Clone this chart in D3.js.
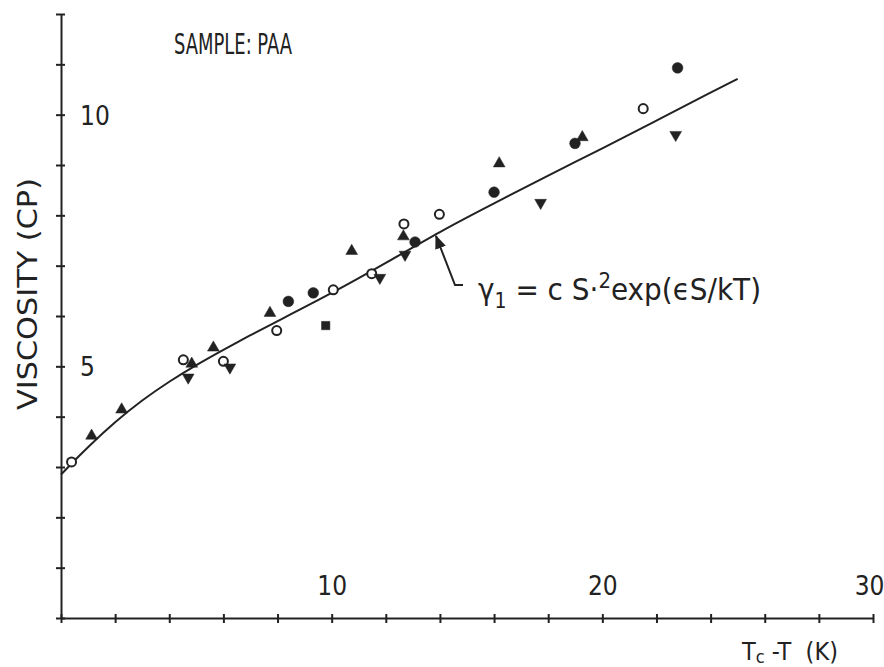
<!DOCTYPE html>
<html>
<head>
<meta charset="utf-8">
<script src="https://cdn.jsdelivr.net/npm/d3@7"></script>
<style>
  body { margin: 0; background: #fff; }
  svg { display: block; }
  text { font-family: "DejaVu Sans Condensed", "DejaVu Sans", sans-serif; fill: #222; white-space: pre; }
</style>
</head>
<body>
<svg id="chart" width="884" height="667"></svg>
<script>
// axis ticks / labels
var xTickValues = [0, 2, 4, 6, 8, 10, 12, 14, 16, 18, 20, 22, 24, 26, 28, 30];
var xTickLabels = { 10: "10", 20: "20", 30: "30" };
var yTickValues = [0, 1, 2, 3, 4, 5, 6, 7, 8, 9, 10, 11, 12];
var yTickLabels = { 5: "5", 10: "10" };

// fitted curve (Tc-T, viscosity)
var curveX = [0, 0.5, 1, 2, 3, 4, 5, 6, 7, 8, 10, 12, 14, 16, 18, 20, 22, 24, 25];
var curveY = [2.85, 3.13, 3.4, 3.9, 4.33, 4.7, 5.03, 5.33, 5.62, 5.9, 6.45, 7.05, 7.68, 8.24, 8.79, 9.33, 9.88, 10.44, 10.71];

// measured points, one array per marker
var openCircle = [[0.39, 3.1], [4.52, 5.13], [6.0, 5.1], [7.97, 5.71], [10.06, 6.52], [11.48, 6.84], [12.67, 7.83], [13.98, 8.02], [21.51, 10.12]];
var filledCircle = [[8.4, 6.29], [9.32, 6.46], [13.08, 7.47], [16.0, 8.46], [18.99, 9.43], [22.78, 10.93]];
var upTriangle = [[1.13, 3.62], [2.24, 4.14], [4.83, 5.05], [5.63, 5.37], [7.72, 6.06], [10.74, 7.29], [12.65, 7.58], [16.19, 9.03], [19.26, 9.55]];
var downTriangle = [[4.7, 4.78], [6.24, 4.98], [11.78, 6.76], [12.71, 7.22], [17.72, 8.25], [22.71, 9.6]];
var filledSquare = [[9.78, 5.81]];

var svg = d3.select("#chart");
var ink = "#222";

var x = d3.scaleLinear().domain([0, 30]).range([61, 873]);
var y = d3.scaleLinear().domain([0, 12]).range([618, 14]);

// x axis, ticks crossing the line, labels above it
var gx = svg.append("g")
  .attr("transform", "translate(0," + y(0) + ")")
  .call(d3.axisBottom(x).tickValues(xTickValues).tickSizeOuter(0)
    .tickFormat(function(d) { return xTickLabels[d] || ""; }));
gx.select(".domain").attr("stroke", ink).attr("stroke-width", 2);
gx.selectAll(".tick line").attr("stroke", ink).attr("stroke-width", 2).attr("y1", -4).attr("y2", 5);
gx.selectAll(".tick text").attr("y", -23).attr("dy", 0)
  .attr("font-size", 26).attr("fill", ink)
  .attr("text-anchor", function(d) { return d === 30 ? "end" : "middle"; })
  .attr("x", function(d) { return d === 30 ? 11 : 0; });

// y axis, labels to the right
var gy = svg.append("g")
  .attr("transform", "translate(" + x(0) + ",0)")
  .call(d3.axisLeft(y).tickValues(yTickValues).tickSizeOuter(0)
    .tickFormat(function(d) { return yTickLabels[d] || ""; }));
gy.select(".domain").attr("stroke", ink).attr("stroke-width", 2);
gy.selectAll(".tick line").attr("stroke", ink).attr("stroke-width", 2).attr("x1", -5).attr("x2", 4);
gy.selectAll(".tick text").attr("x", 19).attr("dy", "0.36em").attr("text-anchor", "start")
  .attr("font-size", 26).attr("fill", ink);
svg.selectAll(".tick text").attr("font-family", null);

// curve
var curve = curveX.map(function(v, i) { return [v, curveY[i]]; });
svg.append("path")
  .datum(curve)
  .attr("fill", "none")
  .attr("stroke", ink)
  .attr("stroke-width", 2)
  .attr("d", d3.line()
    .x(function(d) { return x(d[0]); })
    .y(function(d) { return y(d[1]); })
    .curve(d3.curveBasis));

// markers
function drawSet(data, type, size, filled, rotate) {
  svg.append("g").selectAll("path")
    .data(data)
    .enter().append("path")
    .attr("d", d3.symbol().type(type).size(size))
    .attr("transform", function(d) {
      return "translate(" + x(d[0]) + "," + y(d[1]) + ")" + (rotate ? " rotate(180)" : "");
    })
    .attr("fill", filled ? ink : "#fff")
    .attr("stroke", ink)
    .attr("stroke-width", filled ? 0.5 : 2);
}
drawSet(openCircle, d3.symbolCircle, 64, false, false);
drawSet(filledCircle, d3.symbolCircle, 90, true, false);
drawSet(upTriangle, d3.symbolTriangle, 60, true, false);
drawSet(downTriangle, d3.symbolTriangle, 60, true, true);
drawSet(filledSquare, d3.symbolSquare, 70, true, false);

// axis titles
svg.append("text")
  .attr("transform", "translate(37,294) rotate(-90)")
  .attr("text-anchor", "middle")
  .attr("font-size", 27)
  .attr("textLength", 232)
  .attr("lengthAdjust", "spacingAndGlyphs")
  .text("VISCOSITY (CP)");

var xt = svg.append("text")
  .attr("x", 742).attr("y", 660)
  .attr("font-size", 25);
xt.append("tspan").text("T");
xt.append("tspan").attr("font-size", 18).attr("dy", 3).text("c");
xt.append("tspan").attr("dy", -3).text(" -T  (K)");

// sample label
svg.append("text")
  .attr("x", 174).attr("y", 54)
  .attr("font-size", 29)
  .attr("textLength", 118)
  .attr("lengthAdjust", "spacingAndGlyphs")
  .text("SAMPLE: PAA");

// equation with arrow
var eq = svg.append("text")
  .attr("x", 478).attr("y", 300)
  .attr("font-size", 31);
eq.append("tspan").text("\u03b3");
eq.append("tspan").attr("font-size", 21).attr("dy", 8).text("1");
eq.append("tspan").attr("dy", -8).text(" = c S\u00b7");
eq.append("tspan").attr("font-size", 22).attr("dy", -12).text("2");
eq.append("tspan").attr("dy", 12).text("exp(\u03f5S/kT)");

svg.append("defs").append("marker")
  .attr("id", "head")
  .attr("viewBox", "0 0 10 10")
  .attr("refX", 9).attr("refY", 5)
  .attr("markerWidth", 7).attr("markerHeight", 7)
  .attr("orient", "auto")
  .append("path")
  .attr("d", "M0,1L10,5L0,9Z")
  .attr("fill", ink);

svg.append("path")
  .attr("d", "M463,285L455,285L436,236")
  .attr("fill", "none")
  .attr("stroke", ink)
  .attr("stroke-width", 2)
  .attr("marker-end", "url(#head)");
</script>
</body>
</html>
